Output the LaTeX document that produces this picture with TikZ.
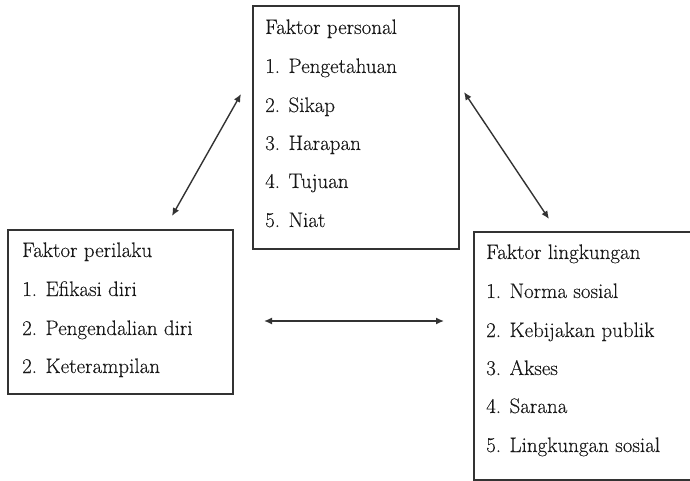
\documentclass[tikz,border=0pt]{standalone}
\usepackage{fontspec}
\newfontfamily\reffont{Latin Modern Roman}[FakeBold=0.2]
\usetikzlibrary{arrows.meta}
\begin{document}
\begin{tikzpicture}[x=1pt,y=-1pt,
  boxline/.style={draw=black!80, line width=1.6pt},
  lbl/.style={anchor=base west, inner sep=0pt, font=\reffont\fontsize{21}{24}\selectfont, text=black!90},
  link/.style={draw=black!80, line width=1.4pt, {Latex[length=8pt,width=7pt]}-{Latex[length=8pt,width=7pt]}}]
\useasboundingbox (0,0) rectangle (690,481);
\clip (0,0) rectangle (690,481);
% boxes
\node[boxline, minimum width=206pt, minimum height=243pt, inner sep=0pt, anchor=north west] (P) at (252,5) {};
\node[boxline, minimum width=225pt, minimum height=164pt, inner sep=0pt, anchor=north west] (B) at (7,229) {};
\node[boxline, minimum width=225pt, minimum height=248pt, inner sep=0pt, anchor=north west] (E) at (473,231) {};
% personal
\node[lbl] (p0) at (265,34) {Faktor personal};
\node[lbl] (p1) at (265,73) {1. Pengetahuan};
\node[lbl] (p2) at (265,112) {2. Sikap};
\node[lbl] (p3) at (265,150) {3. Harapan};
\node[lbl] (p4) at (265,188) {4. Tujuan};
\node[lbl] (p5) at (265,227) {5. Niat};
% perilaku
\node[lbl] (b0) at (22,257) {Faktor perilaku};
\node[lbl] (b1) at (22,296) {1. Efikasi diri};
\node[lbl] (b2) at (22,335) {2. Pengendalian diri};
\node[lbl] (b3) at (22,373) {2. Keterampilan};
% lingkungan
\node[lbl] (e0) at (486,259) {Faktor lingkungan};
\node[lbl] (e1) at (486,298) {1. Norma sosial};
\node[lbl] (e2) at (486,337) {2. Kebijakan publik};
\node[lbl] (e3) at (486,375) {3. Akses};
\node[lbl] (e4) at (486,413) {4. Sarana};
\node[lbl] (e5) at (486,452) {5. Lingkungan sosial};
% arrows
\coordinate (a1) at (241,94);
\coordinate (a2) at (172,216);
\coordinate (c1) at (464,92);
\coordinate (c2) at (549,219);
\coordinate (h1) at (264,321);
\coordinate (h2) at (444,321);
\draw[link] (a1) -- (a2);
\draw[link] (c1) -- (c2);
\draw[link] (h1) -- (h2);
\end{tikzpicture}
\end{document}
